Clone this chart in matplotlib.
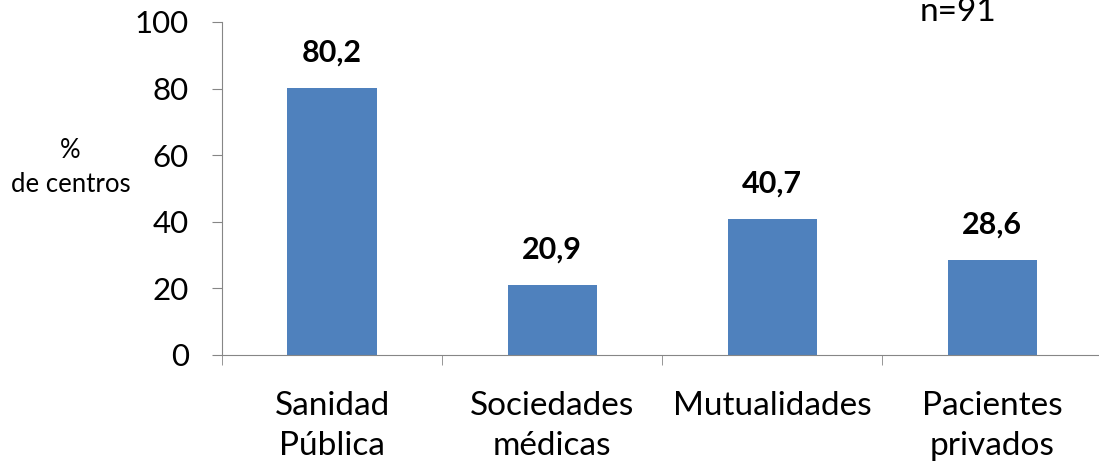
import matplotlib.pyplot as plt

# Data
categories = ['Sanidad\nPública', 'Sociedades\nmédicas', 'Mutualidades', 'Pacientes\nprivados']
values = [80.2, 20.9, 40.7, 28.6]
value_labels = ['80,2', '20,9', '40,7', '28,6']
yticks = [0, 20, 40, 60, 80, 100]

plt.rcParams['font.family'] = ['Lato', 'DejaVu Sans']

fig = plt.figure(figsize=(10.99, 4.67), dpi=100)
ax = fig.add_axes([0.202, 0.240, 0.801, 0.713])

x = list(range(len(categories)))
bars = ax.bar(x, values, width=0.405, color='#4F81BD')

for xi, v, lab in zip(x, values, value_labels):
    ax.annotate(lab, (xi, v), xytext=(0, 19), textcoords='offset points',
                ha='center', va='baseline', fontsize=22, fontweight='bold')

ax.set_xlim(-0.5, len(categories) - 0.5)
ax.set_ylim(0, 100)
ax.set_yticks(yticks)
ax.set_yticklabels([str(t) for t in yticks], fontsize=22.5)
ax.tick_params(axis='y', length=7, color='#868686', pad=17)

# category labels, ticks at the boundaries
ax.set_xticks(x)
ax.set_xticklabels(categories, fontsize=24, linespacing=1.4)
ax.tick_params(axis='x', length=0, pad=26)
ax.set_xticks([i + 0.5 for i in range(-1, len(categories))], minor=True)
ax.tick_params(axis='x', which='minor', length=7, color='#868686')

for side in ['top', 'right']:
    ax.spines[side].set_visible(False)
for side in ['left', 'bottom']:
    ax.spines[side].set_color('#868686')

fig.text(0.064, 0.642, '%\nde centros', ha='center', va='center', fontsize=18.5, linespacing=1.45)
fig.text(0.872, 0.955, 'n=91', ha='center', va='baseline', fontsize=24)

fig.savefig('out.png', dpi=100)
